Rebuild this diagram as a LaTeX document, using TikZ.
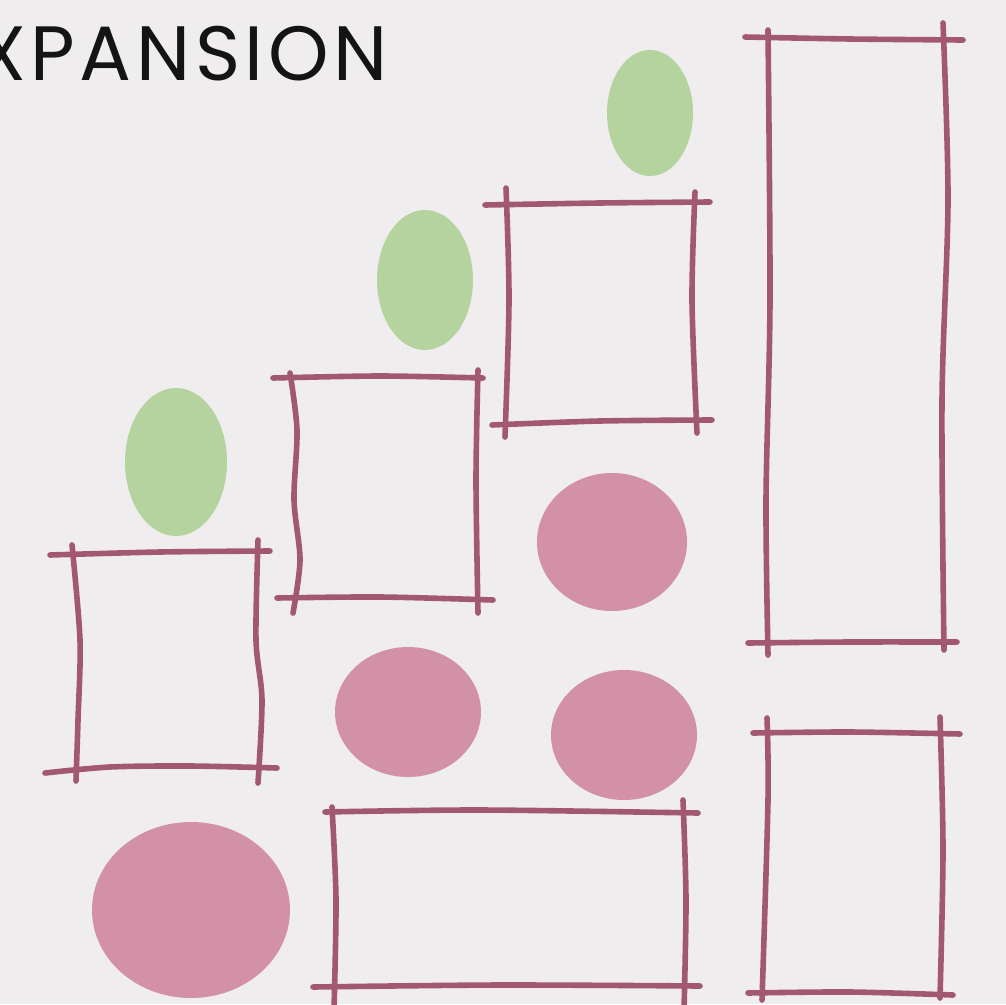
\documentclass[tikz,border=0pt]{standalone}
\usepackage{fontspec}
\setmainfont{Poppins}[LetterSpace=6]
\definecolor{bg}{HTML}{F0EDEF}
\definecolor{ink}{HTML}{A35872}
\definecolor{leaf}{HTML}{B4D39E}
\definecolor{rose}{HTML}{D291A7}
\definecolor{txt}{HTML}{141414}
\tikzset{
  sk/.style={draw=ink,line width=5.6pt,line cap=round,line join=round},
  greenblob/.style={fill=leaf},
  pinkblob/.style={fill=rose},
  texture/.style={draw=white!85!gray,line width=1.2pt,opacity=0.45}
}
\begin{document}
\begin{tikzpicture}[x=1pt,y=-1pt]
\useasboundingbox (0,0) rectangle (1006,1004);
\clip (0,0) rectangle (1006,1004);
\fill[bg] (0,0) rectangle (1006,1004);
% faint newsprint texture
\foreach \xx in {18,44,70,96,122,148,174,200,226,252,278,304,330,356,382,408,434,460,486,512,538,564,590,616,642,668,694,720,746,772,798,824,850,876,902,928,954,980}{
  \draw[texture] (\xx,0) -- (\xx,1004);
}
% title
\node[anchor=base west,font=\fontsize{77}{80}\selectfont,text=txt,inner sep=0pt] (title) at (-22,80) {XPANSION};
% green ellipses
\fill[greenblob] (650,113) ellipse [x radius=43,y radius=63];
\fill[greenblob] (425,280) ellipse [x radius=48,y radius=70];
\fill[greenblob] (176,462) ellipse [x radius=51,y radius=74];
% pink circles
\fill[pinkblob] (612,542) ellipse [x radius=75,y radius=69];
\fill[pinkblob] (408,712) ellipse [x radius=73,y radius=65];
\fill[pinkblob] (624,735) ellipse [x radius=73,y radius=65];
\fill[pinkblob] (191,910) ellipse [x radius=99,y radius=88];
% rectangle A
\draw[sk] plot[smooth] coordinates {(50,555) (160,552) (270,551)};
\draw[sk] plot[smooth] coordinates {(45,773) (110,767) (190,766) (277,768)};
\draw[sk] plot[smooth] coordinates {(72,545) (80,640) (78,720) (76,781)};
\draw[sk] plot[smooth] coordinates {(258,540) (256,640) (262,700) (258,783)};
% rectangle B
\draw[sk] plot[smooth] coordinates {(273,378) (380,376) (483,378)};
\draw[sk] plot[smooth] coordinates {(277,598) (380,597) (493,600)};
\draw[sk] plot[smooth] coordinates {(290,373) (297,430) (294,500) (300,560) (293,613)};
\draw[sk] plot[smooth] coordinates {(478,370) (476,480) (478,613)};
% rectangle C
\draw[sk] plot[smooth] coordinates {(485,205) (600,203) (710,202)};
\draw[sk] plot[smooth] coordinates {(492,425) (600,421) (712,420)};
\draw[sk] plot[smooth] coordinates {(506,188) (509,300) (505,437)};
\draw[sk] plot[smooth] coordinates {(695,192) (692,300) (697,433)};
% rectangle D
\draw[sk] plot[smooth] coordinates {(745,37) (850,39) (963,40)};
\draw[sk] plot[smooth] coordinates {(748,643) (850,642) (957,642)};
\draw[sk] plot[smooth] coordinates {(768,30) (770,300) (766,500) (768,655)};
\draw[sk] plot[smooth] coordinates {(943,23) (948,200) (942,400) (944,650)};
% rectangle E
\draw[sk] plot[smooth] coordinates {(753,733) (850,732) (960,734)};
\draw[sk] plot[smooth] coordinates {(748,993) (850,992) (953,995)};
\draw[sk] plot[smooth] coordinates {(767,718) (768,800) (762,1000)};
\draw[sk] plot[smooth] coordinates {(940,717) (943,850) (940,998)};
% rectangle F
\draw[sk] plot[smooth] coordinates {(325,812) (480,810) (698,813)};
\draw[sk] plot[smooth] coordinates {(313,987) (500,985) (700,986)};
\draw[sk] plot[smooth] coordinates {(332,807) (336,900) (334,1010)};
\draw[sk] plot[smooth] coordinates {(683,800) (686,900) (684,1010)};
\end{tikzpicture}
\end{document}
